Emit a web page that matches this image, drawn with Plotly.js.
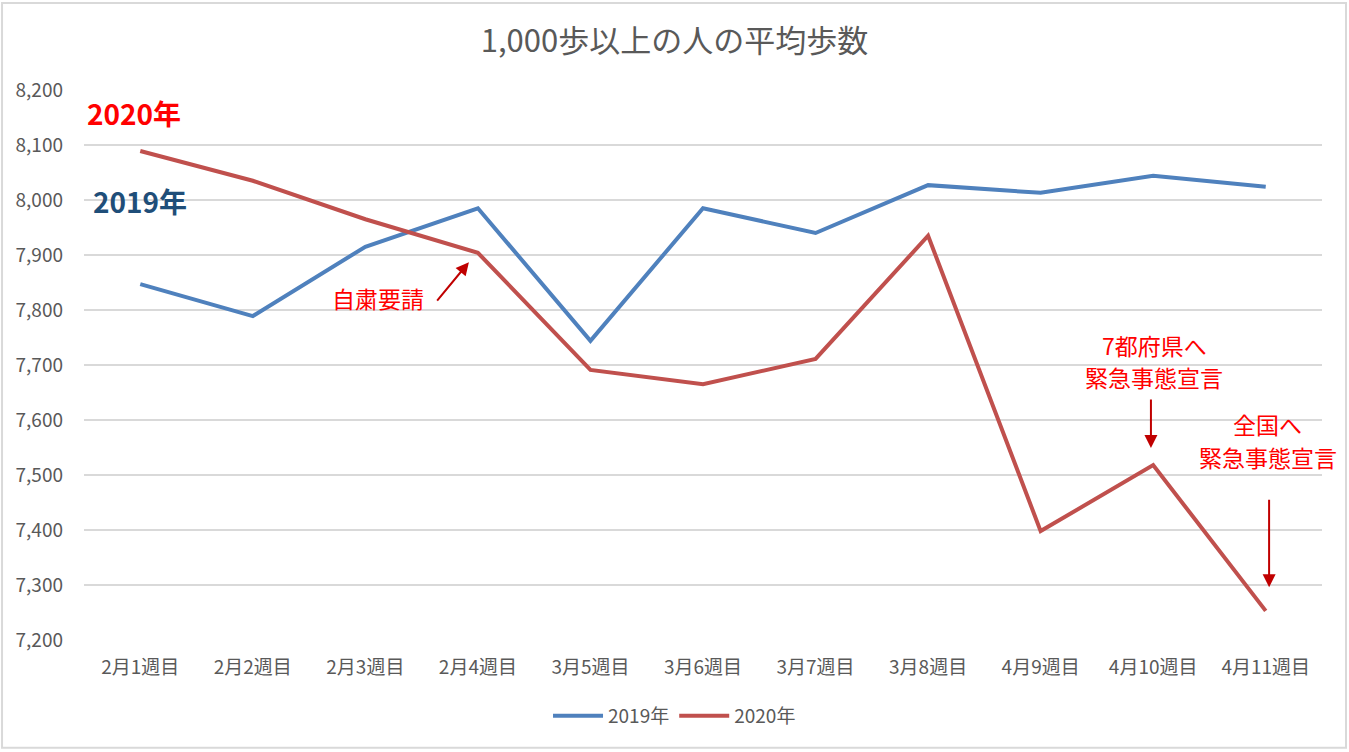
<!DOCTYPE html>
<html>
<head>
<meta charset="utf-8">
<script src="https://cdn.plot.ly/plotly-3.0.1.min.js"></script>
<style>html,body{margin:0;padding:0;background:#fff;}#chart{width:1349px;height:752px;}</style>
</head>
<body>
<div id="chart"></div>
<script>
const categories = ["2月1週目","2月2週目","2月3週目","2月4週目","3月5週目","3月6週目","3月7週目","3月8週目","4月9週目","4月10週目","4月11週目"];
const steps2019 = [7847, 7789, 7915, 7985, 7744, 7985, 7940, 8027, 8013, 8044, 8024];
const steps2020 = [8089, 8035, 7965, 7904, 7691, 7665, 7711, 7935, 7398, 7518, 7253];
const yTicks = [7200, 7300, 7400, 7500, 7600, 7700, 7800, 7900, 8000, 8100, 8200];
const yTickLabels = ["7,200","7,300","7,400","7,500","7,600","7,700","7,800","7,900","8,000","8,100","8,200"];

const FONT = "'Noto Sans CJK JP', 'Noto Sans', sans-serif";
const RED = "#FF0000";
const DARKRED = "#C00000";

const traces = [
  {x: categories, y: steps2019, type: "scatter", mode: "lines", name: "2019年",
   line: {color: "#4F81BD", width: 4}},
  {x: categories, y: steps2020, type: "scatter", mode: "lines", name: "2020年",
   line: {color: "#C0504D", width: 4}}
];

function label(x, y, text, size, color, anchor) {
  return {x: x, y: y, xref: "x", yref: "y", xanchor: anchor || "center", yanchor: "middle",
          showarrow: false, text: text, font: {family: FONT, size: size, color: color}};
}
function arrow(x, y, ax, ay) {
  return {x: x, y: y, xref: "x", yref: "y", ax: ax, ay: ay, text: "", showarrow: true,
          arrowhead: 2, arrowsize: 1.3, arrowwidth: 2, arrowcolor: DARKRED};
}

const annotations = [
  label(-0.49, 8158, "<b>2020年</b>", 28, RED, "left"),
  label(-0.44, 7998, "<b>2019年</b>", 28, "#1F4E79", "left"),
  label(2.115, 7822, "自粛要請", 23, RED),
  label(9.01, 7736, "7都府県へ", 23, RED),
  label(9.01, 7678, "緊急事態宣言", 23, RED),
  label(10.02, 7593, "全国へ", 23, RED),
  label(10.02, 7533, "緊急事態宣言", 23, RED),
  arrow(2.92, 7887, -33, 40),
  arrow(8.98, 7549, 0, -50),
  arrow(10.03, 7296, 0, -89)
];

const layout = {
  width: 1349, height: 752,
  margin: {l: 84, r: 27, t: 90, b: 112},
  paper_bgcolor: "#fff", plot_bgcolor: "#fff",
  title: {text: "1,000歩以上の人の平均歩数", x: 0.5, xanchor: "center", y: 0.945, yanchor: "middle",
          font: {family: FONT, size: 31, color: "#595959"}},
  xaxis: {type: "category", range: [-0.5, 10.5], showgrid: false, zeroline: false,
          showline: false, ticks: "", ticklabelstandoff: 14, tickfont: {family: FONT, size: 19, color: "#595959"}},
  yaxis: {range: [7200, 8200], tickvals: yTicks, ticktext: yTickLabels, showgrid: true,
          gridcolor: "#D9D9D9", gridwidth: 1.5, zeroline: false, showline: false, ticks: "",
          ticklabelstandoff: 20, tickfont: {family: FONT, size: 19, color: "#595959"}},
  showlegend: true,
  legend: {orientation: "h", x: 0.477, xanchor: "center", y: -0.138, yanchor: "middle",
           bgcolor: "rgba(0,0,0,0)",
           font: {family: FONT, size: 19, color: "#595959"}, itemwidth: 50},
  annotations: annotations,
  shapes: [
    {type: "rect", xref: "paper", yref: "paper", x0: -0.0662, x1: 1.0194, y0: -0.196, y1: 1.158,
     line: {color: "#D9D9D9", width: 2}, fillcolor: "rgba(0,0,0,0)", layer: "below"}
  ]
};

Plotly.newPlot("chart", traces, layout, {displayModeBar: false, staticPlot: true});
</script>
</body>
</html>
